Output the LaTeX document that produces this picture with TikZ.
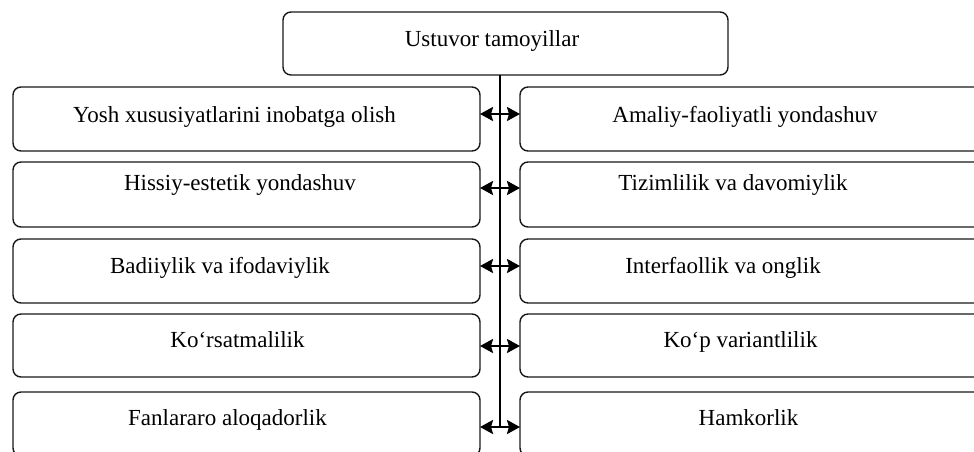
\documentclass[tikz,border=0pt]{standalone}
\usepackage{fontspec}
\setmainfont{Liberation Serif}
\usetikzlibrary{arrows.meta}
\begin{document}
\begin{tikzpicture}[x=1pt,y=-1pt,
  box/.style={draw=black!90,line width=1.4pt,rounded corners=8pt,inner sep=0pt,outer sep=0pt,minimum width=467pt},
  lbl/.style={anchor=base,inner sep=0pt,font=\fontsize{23}{27}\selectfont},
  spine/.style={line width=2.4pt},
  link/.style={line width=2.4pt,{Stealth[length=13pt,width=14pt,inset=2pt]}-{Stealth[length=13pt,width=14pt,inset=2pt]}}]
\useasboundingbox (0,0) rectangle (974,451);
\clip (0,0) rectangle (974,451);
% top box
\node[box,minimum width=445pt,minimum height=63pt] (top) at (505.5,43.5) {};
\node[lbl] (ttop) at (492,46) {Ustuvor tamoyillar};
% left boxes
\node[box,minimum height=64pt] (L1) at (246.5,119) {};
\node[box,minimum height=65pt] (L2) at (246.5,194.5) {};
\node[box,minimum height=64pt] (L3) at (246.5,271) {};
\node[box,minimum height=63pt] (L4) at (246.5,345.5) {};
\node[box,minimum height=64pt] (L5) at (246.5,424) {};
% right boxes
\node[box,minimum height=64pt] (R1) at (753.5,119) {};
\node[box,minimum height=65pt] (R2) at (753.5,194.5) {};
\node[box,minimum height=64pt] (R3) at (753.5,271) {};
\node[box,minimum height=63pt] (R4) at (753.5,345.5) {};
\node[box,minimum height=64pt] (R5) at (753.5,424) {};
% labels
\node[lbl] (tL1) at (234.5,122) {Yosh xususiyatlarini inobatga olish};
\node[lbl] (tL2) at (240,190) {Hissiy-estetik yondashuv};
\node[lbl] (tL3) at (220,273) {Badiiylik va ifodaviylik};
\node[lbl] (tL4) at (237.5,347) {Ko‘rsatmalilik};
\node[lbl] (tL5) at (227.5,425) {Fanlararo aloqadorlik};
\node[lbl] (tR1) at (745,122) {Amaliy-faoliyatli yondashuv};
\node[lbl] (tR2) at (733,190) {Tizimlilik va davomiylik};
\node[lbl] (tR3) at (723,273) {Interfaollik va onglik};
\node[lbl] (tR4) at (740.5,347) {Ko‘p variantlilik};
\node[lbl] (tR5) at (748.5,425) {Hamkorlik};
% spine
\coordinate (A1) at (500,114);
\coordinate (A2) at (500,188);
\coordinate (A3) at (500,266);
\coordinate (A4) at (500,346);
\coordinate (A5) at (500,427);
\draw[spine] (top.south -| A1) -- (A5);
% arrows
\draw[link] (L1.east |- A1) -- (R1.west |- A1);
\draw[link] (L2.east |- A2) -- (R2.west |- A2);
\draw[link] (L3.east |- A3) -- (R3.west |- A3);
\draw[link] (L4.east |- A4) -- (R4.west |- A4);
\draw[link] (L5.east |- A5) -- (R5.west |- A5);
\end{tikzpicture}
\end{document}
